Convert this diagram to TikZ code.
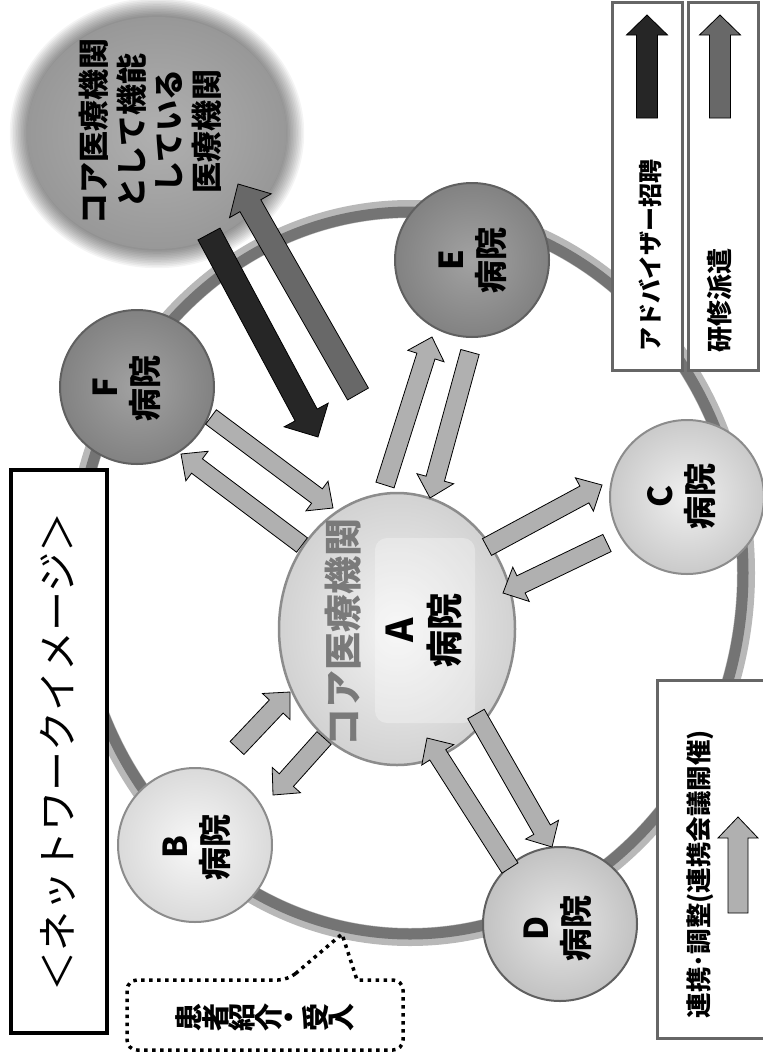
\documentclass[tikz,border=0pt]{standalone}
\usepackage{fontspec}
\newfontfamily\jp{Noto Sans CJK JP}
\usetikzlibrary{calc,shapes.geometric}
\definecolor{ringD}{HTML}{747474}
\definecolor{ringL}{HTML}{B8B8B8}
\definecolor{coreIn}{HTML}{B0B0B0}
\definecolor{coreOut}{HTML}{989898}
\definecolor{feIn}{HTML}{A2A2A2}
\definecolor{feOut}{HTML}{828282}
\definecolor{feBd}{HTML}{606060}
\definecolor{cIn}{HTML}{F0F0F0}
\definecolor{cOut}{HTML}{CACACA}
\definecolor{dIn}{HTML}{E6E6E6}
\definecolor{dOut}{HTML}{C2C2C2}
\definecolor{bIn}{HTML}{F8F8F8}
\definecolor{bOut}{HTML}{DADADA}
\definecolor{aIn}{HTML}{F4F4F4}
\definecolor{aOut}{HTML}{D2D2D2}
\definecolor{ltBd}{HTML}{8C8C8C}
\definecolor{connF}{HTML}{B0B0B0}
\definecolor{darkA}{HTML}{262626}
\definecolor{grayA}{HTML}{686868}
\definecolor{legBd}{HTML}{666666}
\definecolor{coreTx}{HTML}{7A7A7A}
\newcommand\myarrow[6]{%
  \coordinate (bn) at ($(#3)!#6!(#2)$);
  \draw[#1] ($(#2)!#4!90:(#3)$) -- ($(bn)!#4!-90:(#2)$) -- ($(bn)!#5!-90:(#2)$) -- (#3)
    -- ($(bn)!#5!90:(#2)$) -- ($(bn)!#4!90:(#2)$) -- ($(#2)!#4!-90:(#3)$) -- cycle;}
\begin{document}
\begin{tikzpicture}[x=1pt,y=-1pt,
  hosp/.style={circle, inner sep=0pt, minimum size=154pt, line width=2pt},
  lbl/.style={font={\jp\bfseries\fontsize{33}{40}\selectfont}, align=center, rotate=90, inner sep=0pt},
  conn/.style={fill=connF, draw=black, line width=0.8pt, line join=miter},
  darkarr/.style={fill=darkA, draw=black, line width=0.8pt, line join=miter},
  grayarr/.style={fill=grayA, draw=black, line width=0.8pt, line join=miter},
  legbox/.style={draw=legBd, line width=3pt, fill=white},
  legtext/.style={font={\jp\bfseries\fontsize{24}{28}\selectfont}, rotate=90, inner sep=0pt},
  dotline/.style={draw=black, line width=3.5pt, dash pattern=on 3.5pt off 4.5pt}]
\useasboundingbox (0,0) rectangle (763,1055);
\fill[white] (0,0) rectangle (763,1055);

% ring
\draw[ringL, line width=18pt] (410,573) ellipse [x radius=336pt, y radius=364pt];
\draw[ringD, line width=11pt] (410,573) ellipse [x radius=333pt, y radius=361pt];

% core institution with halo
\foreach \i in {1,...,12}
  \fill[black, opacity=0.045] (157,133) ellipse [x radius=128pt+\i*1.6pt, y radius=116pt+\i*1.6pt];
\node[ellipse, inner sep=0pt, minimum width=259pt, minimum height=232pt,
      shade, inner color=coreIn, outer color=coreOut] (core) at (157,133) {};
\node[lbl, font={\jp\bfseries\fontsize{31}{37.5}\selectfont}] (coret) at (150,131)
  {コア医療機関\\として機能\\している\\医療機関};

% hospitals
\node[hosp, shade, inner color=feIn, outer color=feOut, draw=feBd] (F) at (137,387) {};
\node[hosp, shade, inner color=feIn, outer color=feOut, draw=feBd] (E) at (472,260) {};
\node[hosp, shade, inner color=cIn, outer color=cOut, draw=ltBd] (C) at (687,497) {};
\node[hosp, shade, inner color=dIn, outer color=dOut, draw=feBd] (D) at (560,924) {};
\node[hosp, shade, inner color=bIn, outer color=bOut, draw=ltBd] (B) at (195,845) {};
\node[ellipse, inner sep=0pt, minimum width=236pt, minimum height=272pt, line width=2.5pt,
      shade, inner color=aIn, outer color=aOut, draw=ltBd] (A) at (397,629) {};
\fill[white, opacity=0.3, rounded corners=12pt] (375,538) rectangle (475,723);

\node[lbl] (Ft) at (127,388) {F\\病院};
\node[lbl] (Et) at (473,260) {E\\病院};
\node[lbl] (Ct) at (682,496) {C\\病院};
\node[lbl] (Dt) at (558,928) {D\\病院};
\node[lbl] (Bt) at (197,847) {B\\病院};
\node[lbl, font={\jp\bfseries\fontsize{37}{45}\selectfont}] (At) at (424,630) {A\\病院};
\node[lbl, font={\jp\bfseries\fontsize{38}{44}\selectfont}, text=coreTx] (Acore) at (343,632) {コア医療機関};

% arrow end points
\coordinate (fa1s) at (211,417); \coordinate (fa1e) at (333,508);
\coordinate (fa2s) at (302,545); \coordinate (fa2e) at (181,454);
\coordinate (ea1s) at (385,485); \coordinate (ea1e) at (432,337);
\coordinate (ea2s) at (470,352); \coordinate (ea2e) at (430,498);
\coordinate (ca1s) at (487,547); \coordinate (ca1e) at (602,485);
\coordinate (ca2s) at (607,543); \coordinate (ca2e) at (503,593);
\coordinate (da1s) at (476,714); \coordinate (da1e) at (552,847);
\coordinate (da2s) at (510,868); \coordinate (da2e) at (427,738);
\coordinate (ba1s) at (237,748); \coordinate (ba1e) at (290,692);
\coordinate (ba2s) at (324,738); \coordinate (ba2e) at (273,795);
\coordinate (k1s) at (209,234); \coordinate (k1e) at (318,437);
\coordinate (k2s) at (358,394); \coordinate (k2e) at (238,184);

\myarrow{conn}{fa1s}{fa1e}{9pt}{18.5pt}{20pt}
\myarrow{conn}{fa2s}{fa2e}{9pt}{18.5pt}{20pt}
\myarrow{conn}{ea1s}{ea1e}{9.5pt}{19pt}{20pt}
\myarrow{conn}{ea2s}{ea2e}{9.5pt}{19pt}{20pt}
\myarrow{conn}{ca1s}{ca1e}{9.5pt}{19pt}{20pt}
\myarrow{conn}{ca2s}{ca2e}{9.5pt}{19pt}{20pt}
\myarrow{conn}{da1s}{da1e}{9.5pt}{19pt}{20pt}
\myarrow{conn}{da2s}{da2e}{9.5pt}{19pt}{20pt}
\myarrow{conn}{ba1s}{ba1e}{9.5pt}{19pt}{20pt}
\myarrow{conn}{ba2s}{ba2e}{9.5pt}{19pt}{20pt}
\myarrow{darkarr}{k1s}{k1e}{12.5pt}{25pt}{25pt}
\myarrow{grayarr}{k2s}{k2e}{12pt}{24pt}{25pt}

% legend boxes
\draw[legbox] (612,2) rectangle (682,370);
\draw[legbox] (688,2) rectangle (758,370);
\draw[legbox] (657,680) rectangle (780,1038);
\coordinate (l1s) at (647,118); \coordinate (l1e) at (647,15);
\coordinate (l2s) at (720,118); \coordinate (l2e) at (720,15);
\coordinate (l3s) at (738,913); \coordinate (l3e) at (738,817);
\myarrow{darkarr}{l1s}{l1e}{10.5pt}{20.5pt}{20pt}
\myarrow{grayarr}{l2s}{l2e}{10.5pt}{20.5pt}{20pt}
\myarrow{conn}{l3s}{l3e}{10pt}{20pt}{21pt}
\node[legtext] (lt1) at (650,255) {アドバイザー招聘};
\node[legtext, font={\jp\bfseries\fontsize{26}{30}\selectfont}] (lt2) at (720,300) {研修派遣};
\node[legtext, font={\jp\bfseries\fontsize{25.5}{30}\selectfont}] (lt3) at (700,874) {連携･調整(連携会議開催)};

% title
\draw[black, line width=4pt, fill=white] (11,470) rectangle (107,1033);
\node[rotate=90, inner sep=0pt, font={\jp\fontsize{40}{46}\selectfont}] (title) at (58,752) {＜ネットワークイメージ＞};

% callout
\draw[dotline] (288,980) -- (342,934) -- (357,980) [rounded corners=10pt] -- (403,980) -- (403,1050) -- (127,1050) -- (127,980) -- cycle;
\node[inner sep=0pt, font={\jp\bfseries\fontsize{28}{32}\selectfont}] (callt) at (265,1017)
  {\rotatebox{90}{患}\rotatebox{90}{者}\rotatebox{90}{紹}\rotatebox{90}{介}\hspace{3pt}\rotatebox{90}{・}\hspace{3pt}\rotatebox{90}{受}\rotatebox{90}{入}};
\end{tikzpicture}
\end{document}
